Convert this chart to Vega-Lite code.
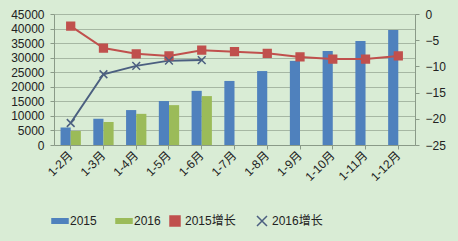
{
  "$schema": "https://vega.github.io/schema/vega-lite/v6.json",
  "width": 458,
  "height": 241,
  "autosize": {"type": "fit", "contains": "padding"},
  "background": "#D9ECD5",
  "padding": {"left": 10, "right": 12, "top": 8, "bottom": 12},
  "datasets": {
    "bars": [
      {"m": "1-2月", "s": "2015", "v": 6000},
      {"m": "1-2月", "s": "2016", "v": 4800},
      {"m": "1-3月", "s": "2015", "v": 9000},
      {"m": "1-3月", "s": "2016", "v": 7900},
      {"m": "1-4月", "s": "2015", "v": 12000},
      {"m": "1-4月", "s": "2016", "v": 10700},
      {"m": "1-5月", "s": "2015", "v": 15100},
      {"m": "1-5月", "s": "2016", "v": 13700},
      {"m": "1-6月", "s": "2015", "v": 18600},
      {"m": "1-6月", "s": "2016", "v": 16800},
      {"m": "1-7月", "s": "2015", "v": 22000},
      {"m": "1-8月", "s": "2015", "v": 25400},
      {"m": "1-9月", "s": "2015", "v": 28900},
      {"m": "1-10月", "s": "2015", "v": 32300},
      {"m": "1-11月", "s": "2015", "v": 35700},
      {"m": "1-12月", "s": "2015", "v": 39500}
    ],
    "growth": [
      {"m": "1-2月", "s": "2015增长", "v": -2.3},
      {"m": "1-3月", "s": "2015增长", "v": -6.5},
      {"m": "1-4月", "s": "2015增长", "v": -7.6},
      {"m": "1-5月", "s": "2015增长", "v": -8.0},
      {"m": "1-6月", "s": "2015增长", "v": -6.9},
      {"m": "1-7月", "s": "2015增长", "v": -7.2},
      {"m": "1-8月", "s": "2015增长", "v": -7.5},
      {"m": "1-9月", "s": "2015增长", "v": -8.2},
      {"m": "1-10月", "s": "2015增长", "v": -8.6},
      {"m": "1-11月", "s": "2015增长", "v": -8.6},
      {"m": "1-12月", "s": "2015增长", "v": -8.0},
      {"m": "1-2月", "s": "2016增长", "v": -20.8},
      {"m": "1-3月", "s": "2016增长", "v": -11.5},
      {"m": "1-4月", "s": "2016增长", "v": -9.9},
      {"m": "1-5月", "s": "2016增长", "v": -8.9},
      {"m": "1-6月", "s": "2016增长", "v": -8.8}
    ]
  },
  "config": {
    "view": {"stroke": null},
    "font": "Noto Sans CJK SC",
    "axis": {"labelFont": "Liberation Sans, Noto Sans CJK SC", "labelFontSize": 12, "labelColor": "#222222", "domainColor": "#8a9a88", "tickColor": "#8a9a88"},
    "legend": {"labelFont": "Liberation Sans, Noto Sans CJK SC", "labelFontSize": 12, "labelColor": "#222222", "offset": 32}
  },
  "layer": [
    {
      "data": {"name": "bars"},
      "mark": {"type": "bar"},
      "encoding": {
        "x": {
          "field": "m", "type": "nominal", "sort": null, "title": null,
          "scale": {"paddingInner": 0.38, "paddingOuter": 0.2},
          "axis": {"labelAngle": -45, "labelAlign": "right", "labelBaseline": "middle", "tickSize": 4, "labelPadding": 4}
        },
        "xOffset": {"field": "s", "type": "nominal"},
        "y": {
          "field": "v", "type": "quantitative", "title": null,
          "scale": {"domain": [0, 45000], "nice": false},
          "axis": {"values": [0, 5000, 10000, 15000, 20000, 25000, 30000, 35000, 40000, 45000], "format": "d", "grid": true, "gridColor": "#a6b7a3", "gridWidth": 1, "domain": true, "ticks": true, "tickSize": 4, "labelPadding": 6}
        },
        "color": {
          "field": "s", "type": "nominal", "title": null,
          "scale": {"domain": ["2015", "2016"], "range": ["#4F81BD", "#9BBB59"]},
          "legend": {"orient": "bottom", "direction": "horizontal", "symbolType": "M-1.6,-0.55H1.6V0.55H-1.6Z", "symbolSize": 120, "symbolStrokeWidth": 0, "columnPadding": 18}
        }
      }
    },
    {
      "data": {"name": "growth"},
      "encoding": {
        "x": {"field": "m", "type": "nominal", "sort": null},
        "y": {
          "field": "v", "type": "quantitative", "title": null,
          "scale": {"domain": [-25, 0], "nice": false},
          "axis": {"orient": "right", "values": [0, -5, -10, -15, -20, -25], "grid": false, "tickSize": 4, "labelPadding": 6}
        },
        "stroke": {
          "field": "s", "type": "nominal", "title": null,
          "scale": {"domain": ["2015增长", "2016增长"], "range": ["#C0504D", "#4B5F80"]},
          "legend": {"orient": "bottom", "direction": "horizontal", "columnPadding": 18}
        }
      },
      "layer": [
        {"mark": {"type": "line", "strokeWidth": 2}},
        {
          "mark": {"type": "point", "size": 60, "strokeWidth": 1.5, "opacity": 1},
          "encoding": {
            "shape": {
              "field": "s", "type": "nominal", "title": null,
              "scale": {"domain": ["2015增长", "2016增长"], "range": ["square", "M-1,-1L1,1M-1,1L1,-1"]},
              "legend": {"orient": "bottom", "direction": "horizontal", "columnPadding": 18}
            },
            "fill": {
              "field": "s", "type": "nominal",
              "scale": {"domain": ["2015增长", "2016增长"], "range": ["#C0504D", "transparent"]},
              "legend": null
            }
          }
        }
      ]
    }
  ],
  "resolve": {"scale": {"y": "independent"}}
}
